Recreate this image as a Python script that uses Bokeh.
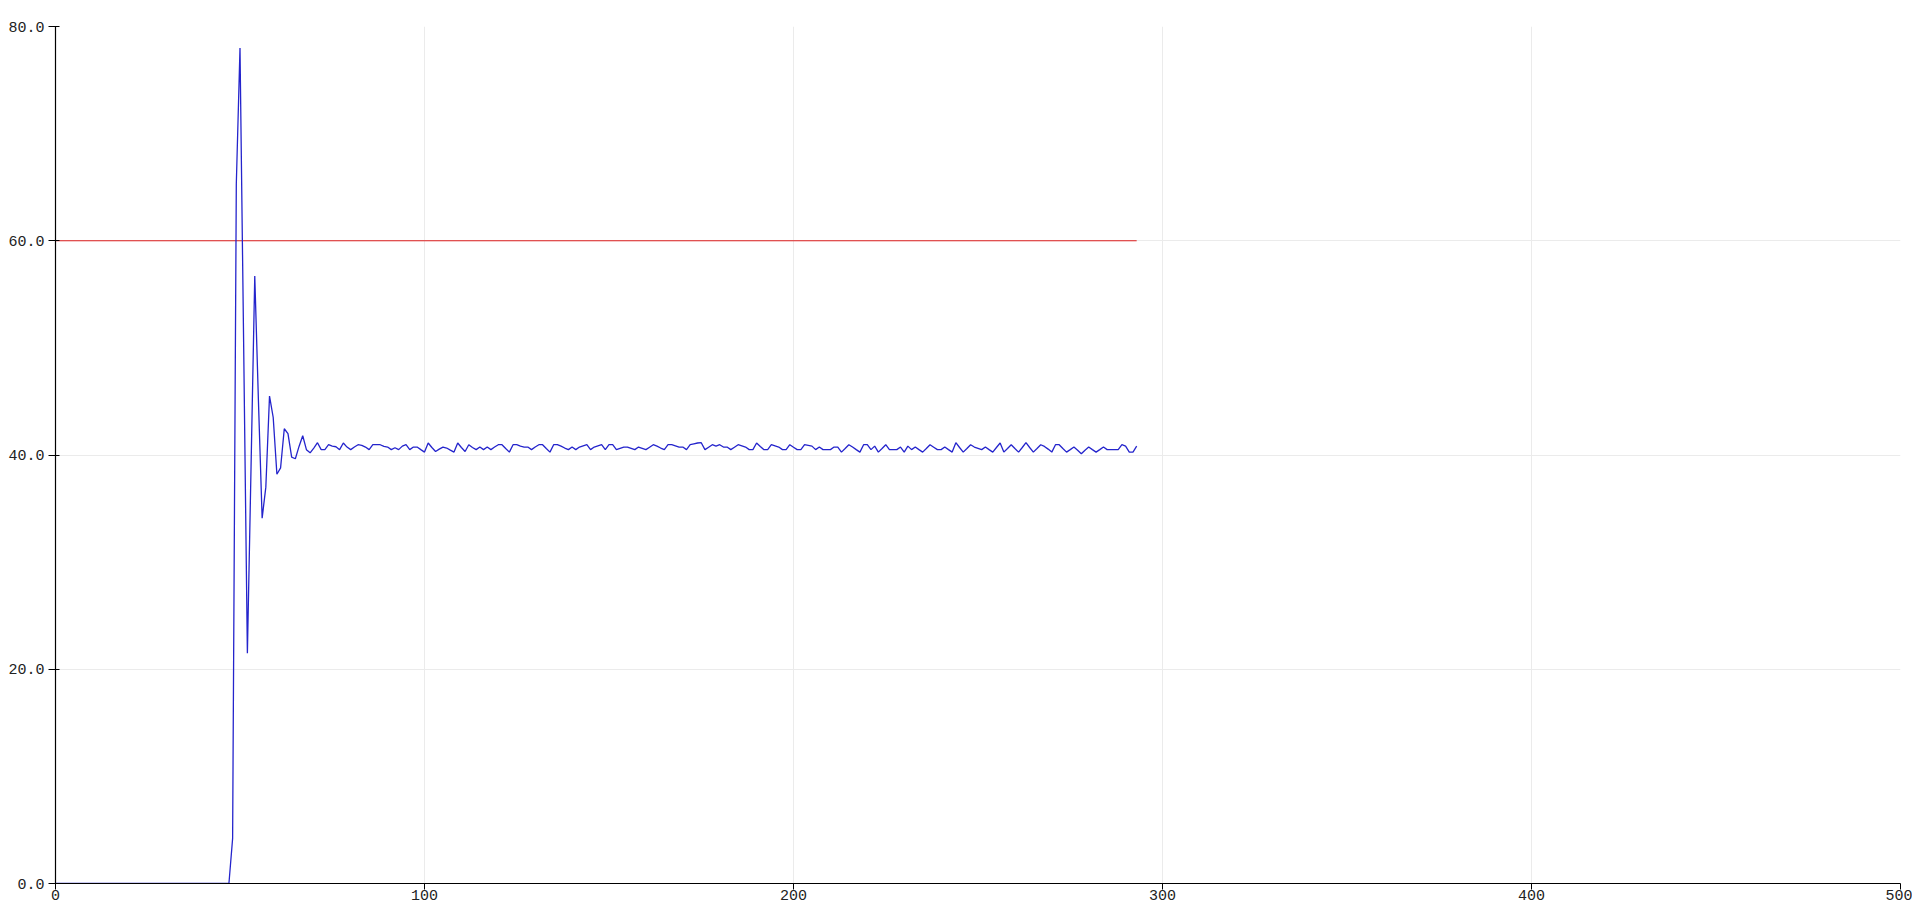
from bokeh.plotting import figure
from bokeh.models import Range1d, FixedTicker, NumeralTickFormatter
from bokeh.embed import file_html
from bokeh.resources import INLINE

# measured process value, one sample per step (x = 0..293)
response = [0.0] * 48 + [
    4.2, 65.3, 78.0, 50.0, 21.5, 39.0, 56.7, 45.0, 34.1, 37.0,
    45.5, 43.5, 38.2, 38.8, 42.45, 42.0, 39.8, 39.65, 40.8, 41.8,
    40.5, 40.2, 40.65, 41.15, 40.5, 40.5, 40.96, 40.83, 40.77, 40.5,
    41.12, 40.74, 40.5, 40.74, 40.96, 40.9, 40.74, 40.5, 40.96, 40.96,
    40.96, 40.8, 40.74, 40.5, 40.68, 40.5, 40.83, 40.96, 40.5, 40.74,
    40.74, 40.5, 40.27, 41.12, 40.7, 40.33, 40.55, 40.74, 40.65, 40.45,
    40.27, 41.12, 40.7, 40.33, 40.96, 40.7, 40.5, 40.74, 40.5, 40.74,
    40.5, 40.74, 40.96, 40.96, 40.6, 40.27, 40.96, 40.96, 40.83, 40.74,
    40.74, 40.5, 40.75, 40.96, 40.96, 40.6, 40.27, 40.96, 40.96, 40.83,
    40.65, 40.5, 40.74, 40.5, 40.74, 40.85, 40.96, 40.5, 40.74, 40.85,
    40.96, 40.5, 40.96, 40.96, 40.5, 40.62, 40.74, 40.74, 40.62, 40.5,
    40.74, 40.62, 40.5, 40.73, 40.96, 40.83, 40.65, 40.5, 40.96, 40.96,
    40.85, 40.74, 40.74, 40.5, 40.96, 41.04, 41.12, 41.15, 40.5, 40.73,
    40.96, 40.83, 40.96, 40.74, 40.74, 40.5, 40.73, 40.96, 40.85, 40.74,
    40.5, 40.5, 41.12, 40.8, 40.5, 40.5, 40.96, 40.85, 40.74, 40.5,
    40.5, 40.96, 40.73, 40.5, 40.5, 40.96, 40.9, 40.83, 40.5, 40.74,
    40.5, 40.5, 40.5, 40.74, 40.74, 40.27, 40.6, 40.96, 40.74, 40.5,
    40.27, 40.96, 40.96, 40.5, 40.83, 40.27, 40.6, 40.96, 40.5, 40.5,
    40.5, 40.74, 40.27, 40.83, 40.5, 40.74, 40.5, 40.27, 40.6, 40.96,
    40.73, 40.5, 40.5, 40.74, 40.5, 40.27, 41.15, 40.7, 40.27, 40.6,
    40.96, 40.74, 40.62, 40.5, 40.74, 40.5, 40.27, 40.7, 41.12, 40.27,
    40.6, 40.96, 40.6, 40.27, 40.7, 41.15, 40.7, 40.27, 40.6, 40.96,
    40.8, 40.55, 40.27, 40.96, 40.96, 40.6, 40.27, 40.5, 40.74, 40.45,
    40.12, 40.45, 40.74, 40.5, 40.27, 40.5, 40.74, 40.5, 40.5, 40.5,
    40.5, 40.96, 40.83, 40.27, 40.27, 40.83,
]
steps = list(range(len(response)))
setpoint = [60.0] * len(response)

x_ticks = [0, 100, 200, 300, 400, 500]
y_ticks = [0, 20, 40, 60, 80]

p = figure(width=1912, height=909, output_backend="svg", toolbar_location=None,
           x_range=Range1d(0, 500), y_range=Range1d(0, 80),
           min_border_left=55, min_border_right=12, min_border_top=26,
           min_border_bottom=26)
p.outline_line_color = None
p.background_fill_color = "white"

p.line(steps, setpoint, line_color="#dd1f1f", line_width=1.2)
p.line(steps, response, line_color="#2424cc", line_width=1.3)

p.xaxis.ticker = FixedTicker(ticks=x_ticks)
p.yaxis.ticker = FixedTicker(ticks=y_ticks)
p.yaxis.formatter = NumeralTickFormatter(format="0.0")

for ax in (p.xaxis, p.yaxis):
    ax.axis_line_color = "black"
    ax.axis_line_width = 1.2
    ax.major_tick_line_color = "black"
    ax.minor_tick_line_color = None
    ax.major_label_text_font = "Liberation Mono"
    ax.major_label_text_font_size = "15px"
    ax.major_label_text_color = "#222222"
p.xaxis.major_tick_in = 0
p.xaxis.major_tick_out = 6
p.xaxis.major_label_standoff = 0
p.yaxis.major_tick_in = 4
p.yaxis.major_tick_out = 7
p.yaxis.major_label_standoff = 4

p.grid.grid_line_color = "#ebebeb"
p.grid.grid_line_width = 1

open("out.html", "w").write(file_html(p, INLINE))
